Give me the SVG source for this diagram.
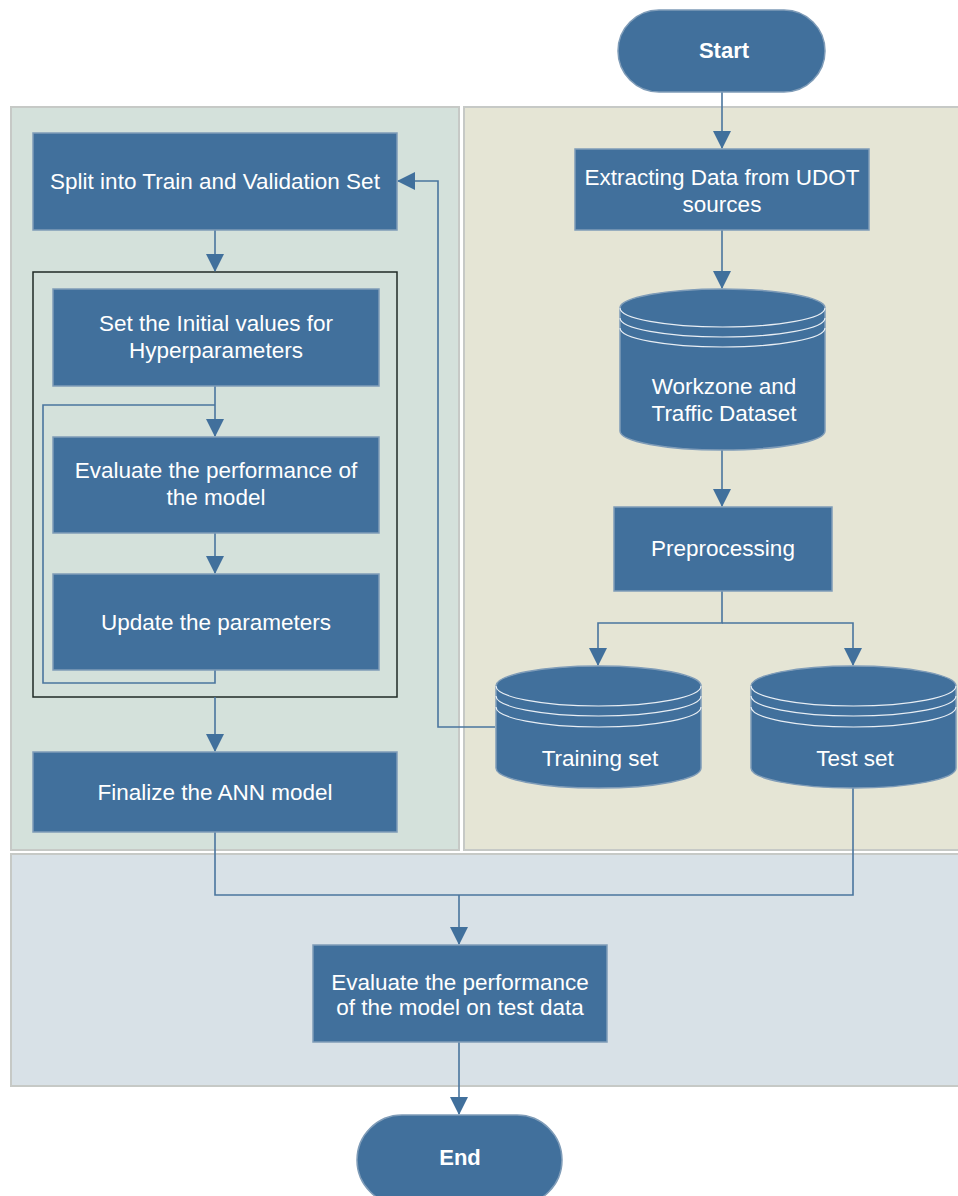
<svg xmlns="http://www.w3.org/2000/svg" width="958" height="1196" viewBox="0 0 958 1196">
<defs>
<marker id="ah" markerWidth="18" markerHeight="18" refX="17" refY="9" orient="auto" markerUnits="userSpaceOnUse">
<path d="M0,0 L18,9 L0,18 Z" fill="#41709c"/>
</marker>
<style>
.box{fill:#41709c;stroke:#7f9cb8;stroke-width:1.5}
.t{font-family:"Liberation Sans",Arial,sans-serif;font-size:22.5px;fill:#ffffff;text-anchor:middle}
.b{font-weight:bold;font-size:22px}
.c{fill:none;stroke:#4a759e;stroke-width:1.6}
.cl{fill:none;stroke:#e8eef4;stroke-width:1.2}
</style>
</defs>
<rect x="0" y="0" width="958" height="1196" fill="#ffffff"/>
<g id="panels">
<rect x="11" y="107" width="448" height="743" fill="#d4e1db" stroke="#c6c9c6" stroke-width="2"/>
<rect x="464" y="107" width="500" height="743" fill="#e5e5d5" stroke="#c6c9c6" stroke-width="2"/>
<rect x="11" y="854" width="960" height="232" fill="#d8e1e7" stroke="#c6c9c6" stroke-width="2"/>
</g>
<g id="inner-frame">
<rect x="33" y="272" width="364" height="425" fill="none" stroke="#1f2a26" stroke-width="1.5"/>
</g>
<g id="connectors">
<path class="c" d="M722,92 V148" marker-end="url(#ah)"/>
<path class="c" d="M722,230 V288" marker-end="url(#ah)"/>
<path class="c" d="M722,450 V506" marker-end="url(#ah)"/>
<path class="c" d="M722,591 V623 H598 V665" marker-end="url(#ah)"/>
<path class="c" d="M722,623 H853 V665" marker-end="url(#ah)"/>
<path class="c" d="M495,727 H438 V181 H398" marker-end="url(#ah)"/>
<path class="c" d="M215,230 V271" marker-end="url(#ah)"/>
<path class="c" d="M215,386 V436" marker-end="url(#ah)"/>
<path class="c" d="M215,533 V573" marker-end="url(#ah)"/>
<path class="c" d="M215,670 V683 H43 V405 H215"/>
<path class="c" d="M215,697 V751" marker-end="url(#ah)"/>
<path class="c" d="M215,832 V895 H853 V788"/>
<path class="c" d="M459,895 V944" marker-end="url(#ah)"/>
<path class="c" d="M459,1042 V1114" marker-end="url(#ah)"/>
</g>
<g id="start">
<rect class="box" x="618" y="10" width="207" height="82" rx="41" ry="41"/>
<text class="t b" x="724" y="58">Start</text>
</g>
<g id="extract">
<rect class="box" x="575" y="149" width="294" height="81"/>
<text class="t" x="722" y="185">Extracting Data from UDOT</text>
<text class="t" x="722" y="212">sources</text>
</g>
<g id="workzone">
<path class="box" d="M620,308 A102.5,19 0 0 1 825,308 V431 A102.5,19 0 0 1 620,431 Z"/>
<path class="cl" d="M620,308 A102.5,19 0 0 0 825,308"/>
<path class="cl" d="M620,318 A102.5,19 0 0 0 825,318"/>
<path class="cl" d="M620,328 A102.5,19 0 0 0 825,328"/>
<text class="t" x="724" y="394">Workzone and</text>
<text class="t" x="724" y="421">Traffic Dataset</text>
</g>
<g id="preprocessing">
<rect class="box" x="614" y="507" width="218" height="84"/>
<text class="t" x="723" y="556">Preprocessing</text>
</g>
<g id="training">
<path class="box" d="M496,686 A102.5,20 0 0 1 701,686 V768 A102.5,20 0 0 1 496,768 Z"/>
<path class="cl" d="M496,686 A102.5,20 0 0 0 701,686"/>
<path class="cl" d="M496,696 A102.5,20 0 0 0 701,696"/>
<path class="cl" d="M496,707 A102.5,20 0 0 0 701,707"/>
<text class="t" x="600" y="766">Training set</text>
</g>
<g id="test">
<path class="box" d="M751,686 A102.5,20 0 0 1 956,686 V768 A102.5,20 0 0 1 751,768 Z"/>
<path class="cl" d="M751,686 A102.5,20 0 0 0 956,686"/>
<path class="cl" d="M751,696 A102.5,20 0 0 0 956,696"/>
<path class="cl" d="M751,707 A102.5,20 0 0 0 956,707"/>
<text class="t" x="855" y="766">Test set</text>
</g>
<g id="split">
<rect class="box" x="33" y="133" width="364" height="97"/>
<text class="t" x="215" y="189">Split into Train and Validation Set</text>
</g>
<g id="set-initial">
<rect class="box" x="53" y="289" width="326" height="97"/>
<text class="t" x="216" y="331">Set the Initial values for</text>
<text class="t" x="216" y="358">Hyperparameters</text>
</g>
<g id="evaluate">
<rect class="box" x="53" y="437" width="326" height="96"/>
<text class="t" x="216" y="478">Evaluate the performance of</text>
<text class="t" x="216" y="505">the model</text>
</g>
<g id="update">
<rect class="box" x="53" y="574" width="326" height="96"/>
<text class="t" x="216" y="630">Update the parameters</text>
</g>
<g id="finalize">
<rect class="box" x="33" y="752" width="364" height="80"/>
<text class="t" x="215" y="800">Finalize the ANN model</text>
</g>
<g id="evaluate-test">
<rect class="box" x="313" y="945" width="294" height="97"/>
<text class="t" x="460" y="990">Evaluate the performance</text>
<text class="t" x="460" y="1015">of the model on test data</text>
</g>
<g id="end">
<rect class="box" x="357" y="1115" width="205" height="90" rx="45" ry="45"/>
<text class="t b" x="460" y="1165">End</text>
</g>
</svg>
